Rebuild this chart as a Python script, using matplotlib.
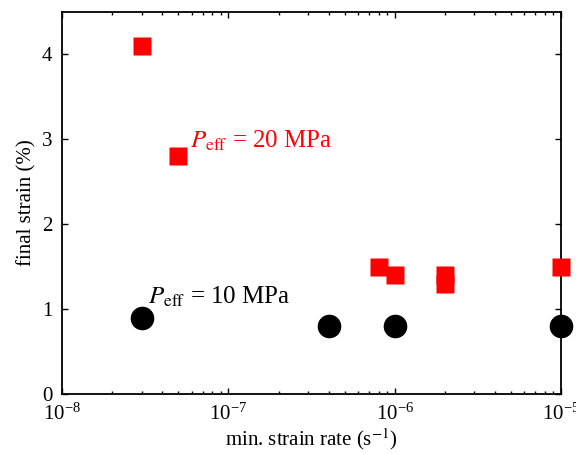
import numpy as np
import matplotlib.pyplot as plt

plt.rcParams['font.family'] = ['Liberation Serif', 'DejaVu Serif']
plt.rcParams['mathtext.fontset'] = 'stix'

# strain rate (1/s) vs final strain (%)
rate_20 = [3e-8, 5e-8, 8e-7, 1e-6, 2e-6, 2e-6, 1e-5]
strain_20 = [4.1, 2.8, 1.5, 1.4, 1.4, 1.3, 1.5]
rate_10 = [3e-8, 4e-7, 1e-6, 1e-5]
strain_10 = [0.9, 0.8, 0.8, 0.8]

fig = plt.figure(figsize=(5.76, 4.54), dpi=100)
ax = fig.add_axes([0.108, 0.132, 0.866, 0.842])

ax.plot(rate_20, strain_20, 's', color='red', markersize=13, mec='none', clip_on=False, zorder=3)
ax.plot(rate_10, strain_10, 'o', color='black', markersize=17, mec='none', clip_on=False, zorder=3)

ax.text(5.9e-8, 2.9, r'$P_{\rm eff}$ = 20 MPa', color='red', fontsize=18)
ax.text(3.3e-8, 1.06, r'$P_{\rm eff}$ = 10 MPa', color='black', fontsize=18)

ax.set_xscale('log')
ax.set_xlim(1e-8, 1e-5)
ax.set_ylim(0, 4.5)
ax.set_yticks([0, 1, 2, 3, 4])
ax.set_xticks([1e-8, 1e-7, 1e-6, 1e-5])
for s in ax.spines.values():
    s.set_linewidth(1.3)
ax.tick_params(which='both', direction='in', top=True, right=True, labelsize=15, width=1)
ax.tick_params(which='major', length=4.5)
ax.tick_params(which='minor', length=2.5)
ax.tick_params(axis='y', pad=7)
ax.tick_params(axis='x', pad=7)

ax.set_xlabel(r'min. strain rate (s$^{-1}$)', fontsize=15, labelpad=1)
ax.set_ylabel('final strain (%)', fontsize=15)

fig.savefig('out.png', dpi=100)
